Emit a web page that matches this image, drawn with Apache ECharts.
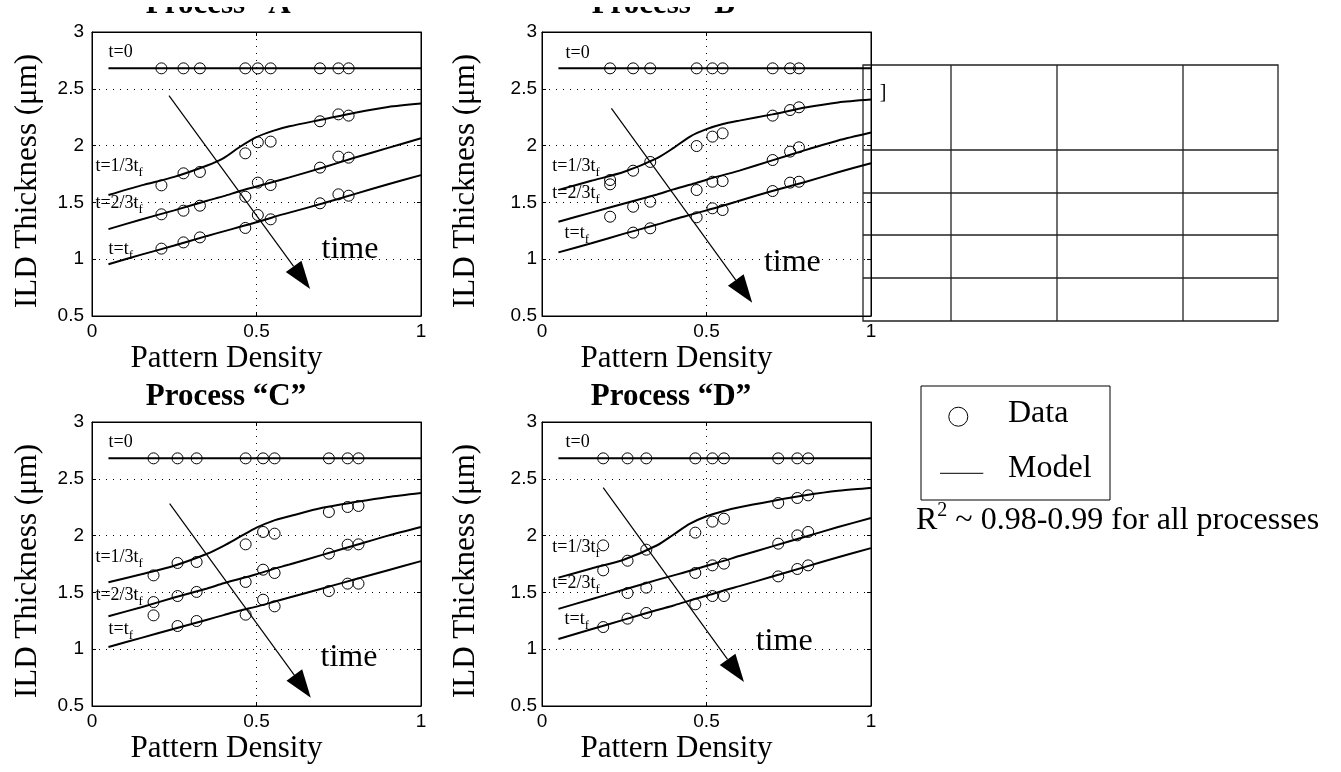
<!DOCTYPE html>
<html>
<head>
<meta charset="utf-8">
<script src="https://cdn.jsdelivr.net/npm/echarts@6/dist/echarts.min.js"></script>
<style>
  html, body { margin: 0; background: #fff; }
  #chart { width: 1341px; height: 772px; }
</style>
</head>
<body>
<div id="chart"></div>
<script>
// pattern density of the measured sites, per process
const densityA = [0.211, 0.278, 0.328, 0.466, 0.504, 0.543, 0.693, 0.749, 0.780];
const densityB = [0.207, 0.277, 0.329, 0.470, 0.518, 0.549, 0.701, 0.754, 0.781];
const densityC = [0.187, 0.260, 0.318, 0.467, 0.520, 0.555, 0.720, 0.777, 0.810];
const densityD = [0.186, 0.260, 0.317, 0.466, 0.518, 0.553, 0.718, 0.776, 0.809];

// measured ILD thickness (um): t=0, t=1/3tf, t=2/3tf, t=tf
const dataA0 = [2.68, 2.68, 2.68, 2.68, 2.68, 2.68, 2.68, 2.68, 2.68];
const dataA1 = [1.65, 1.756, 1.768, 1.932, 2.029, 2.035, 2.214, 2.275, 2.264];
const dataA2 = [1.395, 1.427, 1.471, 1.55, 1.674, 1.653, 1.806, 1.903, 1.894];
const dataA3 = [1.093, 1.148, 1.192, 1.275, 1.389, 1.351, 1.492, 1.571, 1.559];

const dataB0 = [2.68, 2.68, 2.68, 2.68, 2.68, 2.68, 2.68, 2.68, 2.68];
const dataB1 = [1.697, 1.779, 1.856, 1.996, 2.079, 2.108, 2.264, 2.313, 2.337];
const dataB2 = [1.659, 1.462, 1.506, 1.609, 1.682, 1.688, 1.873, 1.947, 1.985];
const dataB3 = [1.374, 1.234, 1.272, 1.369, 1.448, 1.433, 1.6, 1.674, 1.682];

const dataC0 = [2.68, 2.68, 2.68, 2.68, 2.68, 2.68, 2.68, 2.68, 2.68];
const dataC1 = [1.65, 1.759, 1.768, 1.923, 2.032, 2.017, 2.208, 2.252, 2.261];
const dataC2 = [1.415, 1.468, 1.504, 1.592, 1.7, 1.671, 1.841, 1.92, 1.923];
const dataC3 = [1.298, 1.204, 1.248, 1.304, 1.436, 1.377, 1.512, 1.577, 1.577];

const dataD0 = [2.68, 2.68, 2.68, 2.68, 2.68, 2.68, 2.68, 2.68, 2.68];
const dataD1 = [1.914, 1.779, 1.876, 2.026, 2.123, 2.149, 2.287, 2.331, 2.354];
const dataD2 = [1.694, 1.495, 1.542, 1.671, 1.738, 1.753, 1.929, 2.002, 2.032];
const dataD3 = [1.195, 1.269, 1.319, 1.395, 1.468, 1.468, 1.641, 1.706, 1.738];

// model curves
const flatX = [0.05, 1.0];
const flat0 = [2.68, 2.68];
const modelX = [0.05, 0.15, 0.25, 0.35, 0.4, 0.45, 0.5, 0.55, 0.6, 0.7, 0.8, 0.9, 1.0];
const modelA1 = [1.565, 1.65, 1.725, 1.825, 1.89, 1.99, 2.075, 2.13, 2.17, 2.23, 2.29, 2.34, 2.37];
const modelA2 = [1.265, 1.35, 1.43, 1.515, 1.555, 1.6, 1.64, 1.68, 1.72, 1.805, 1.895, 1.98, 2.065];
const modelA3 = [0.955, 1.04, 1.12, 1.205, 1.245, 1.285, 1.325, 1.37, 1.41, 1.49, 1.575, 1.66, 1.74];
const modelB1 = [1.61, 1.69, 1.77, 1.89, 1.98, 2.08, 2.145, 2.19, 2.22, 2.275, 2.335, 2.38, 2.405];
const modelB2 = [1.33, 1.41, 1.49, 1.57, 1.615, 1.655, 1.70, 1.74, 1.78, 1.87, 1.96, 2.045, 2.115];
const modelB3 = [1.06, 1.14, 1.225, 1.305, 1.35, 1.39, 1.43, 1.47, 1.515, 1.6, 1.68, 1.765, 1.845];
const modelC1 = [1.59, 1.66, 1.735, 1.84, 1.91, 1.99, 2.07, 2.13, 2.17, 2.245, 2.295, 2.34, 2.375];
const modelC2 = [1.29, 1.37, 1.455, 1.535, 1.58, 1.62, 1.66, 1.705, 1.745, 1.83, 1.915, 2.0, 2.075];
const modelC3 = [1.02, 1.10, 1.18, 1.26, 1.30, 1.34, 1.375, 1.415, 1.455, 1.535, 1.615, 1.695, 1.775];
const modelD1 = [1.63, 1.71, 1.79, 1.915, 2.01, 2.105, 2.17, 2.215, 2.25, 2.305, 2.355, 2.395, 2.42];
const modelD2 = [1.355, 1.44, 1.525, 1.61, 1.65, 1.69, 1.735, 1.775, 1.82, 1.905, 1.99, 2.075, 2.155];
const modelD3 = [1.09, 1.175, 1.26, 1.345, 1.385, 1.43, 1.47, 1.515, 1.555, 1.64, 1.725, 1.81, 1.89];

const titles = ['Process “A”', 'Process “B”', 'Process “C”', 'Process “D”'];
const curveLabels = ['t=0', 't=1/3t_f', 't=2/3t_f', 't=t_f'];

// label anchors and "time" arrow, in data coordinates of each panel
const labelAtA = [[0.049, 2.824], [0.009, 1.82], [0.009, 1.495], [0.049, 1.09]];
const labelAtB = [[0.07, 2.815], [0.03, 1.82], [0.03, 1.583], [0.067, 1.231]];
const labelAtC = [[0.049, 2.824], [0.009, 1.812], [0.009, 1.477], [0.049, 1.178]];
const labelAtD = [[0.07, 2.824], [0.03, 1.9], [0.03, 1.583], [0.067, 1.266]];
const timeAt = [[0.784, 1.081], [0.761, 0.971], [0.781, 0.927], [0.736, 1.064]];
const arrows = [
  [0.234, 2.44, 0.663, 0.738],
  [0.211, 2.328, 0.639, 0.617],
  [0.236, 2.281, 0.665, 0.573],
  [0.186, 2.422, 0.614, 0.711]
];

const SERIF = 'Liberation Serif';
const SANS = 'Liberation Sans';

const panels = [
  { density: densityA, data: [dataA0, dataA1, dataA2, dataA3], model: [modelA1, modelA2, modelA3], labels: labelAtA },
  { density: densityB, data: [dataB0, dataB1, dataB2, dataB3], model: [modelB1, modelB2, modelB3], labels: labelAtB },
  { density: densityC, data: [dataC0, dataC1, dataC2, dataC3], model: [modelC1, modelC2, modelC3], labels: labelAtC },
  { density: densityD, data: [dataD0, dataD1, dataD2, dataD3], model: [modelD1, modelD2, modelD3], labels: labelAtD }
];

const boxes = [
  { left: 92, top: 32, yGap: 49, yMargin: 8 },
  { left: 542, top: 32, yGap: 61, yMargin: 5 },
  { left: 92, top: 422, yGap: 49, yMargin: 8 },
  { left: 542, top: 422, yGap: 61, yMargin: 5 }
];

const zip = (xs, ys) => xs.map((x, i) => [x, ys[i]]);

const grid = [], xAxis = [], yAxis = [], series = [];
const dotted = { color: '#000', width: 1, type: [1, 6] };

boxes.forEach(b => {
  grid.push({ left: b.left, top: b.top, width: 329, height: 284, show: true, borderColor: '#000', borderWidth: 1 });
});
boxes.forEach((b, i) => {
  xAxis.push({
    gridIndex: i, type: 'value', min: 0, max: 1, interval: 0.5, position: 'bottom',
    axisLine: { show: true, onZero: false, lineStyle: { color: '#000', width: 1 } },
    axisTick: { show: true, inside: true, length: 4, lineStyle: { color: '#000' } },
    axisLabel: { fontFamily: SANS, fontSize: 19, color: '#000', margin: 6 },
    splitLine: { show: true, lineStyle: dotted },
    name: 'Pattern Density', nameLocation: 'middle', nameGap: 27,
    nameTextStyle: { fontFamily: SERIF, fontSize: 31, color: '#000', padding: [0, 60, 0, 0] }
  });
  yAxis.push({
    gridIndex: i, type: 'value', min: 0.5, max: 3, interval: 0.5, position: 'left',
    axisLine: { show: true, onZero: false, lineStyle: { color: '#000', width: 1 } },
    axisTick: { show: true, inside: true, length: 4, lineStyle: { color: '#000' } },
    axisLabel: { fontFamily: SANS, fontSize: 19, color: '#000', margin: b.yMargin },
    splitLine: { show: true, lineStyle: dotted },
    name: 'ILD Thickness (μm)', nameLocation: 'middle', nameGap: b.yGap,
    nameTextStyle: { fontFamily: SERIF, fontSize: 31, color: '#000', padding: [0, 14, 0, 0] }
  });
});
// mirrored axes for the inward ticks on top and right
boxes.forEach((b, i) => {
  xAxis.push({
    gridIndex: i, type: 'value', min: 0, max: 1, interval: 0.5, position: 'top',
    axisLine: { show: true, onZero: false, lineStyle: { color: '#000' } },
    axisTick: { show: true, inside: true, length: 4, lineStyle: { color: '#000' } },
    axisLabel: { show: false }, splitLine: { show: false }
  });
  yAxis.push({
    gridIndex: i, type: 'value', min: 0.5, max: 3, interval: 0.5, position: 'right',
    axisLine: { show: true, onZero: false, lineStyle: { color: '#000' } },
    axisTick: { show: true, inside: true, length: 4, lineStyle: { color: '#000' } },
    axisLabel: { show: false }, splitLine: { show: false }
  });
});

const lineStyle = { color: '#000', width: 2 };
const hidden = { color: 'rgba(0,0,0,0)', opacity: 1 };

panels.forEach((p, i) => {
  const axes = { xAxisIndex: i, yAxisIndex: i };
  series.push(Object.assign({
    type: 'line', data: zip(flatX, flat0), symbol: 'none', lineStyle, silent: true
  }, axes));
  p.model.forEach(m => {
    series.push(Object.assign({
      type: 'line', data: zip(modelX, m), symbol: 'none', smooth: 0.25, lineStyle, silent: true
    }, axes));
  });
  p.data.forEach(d => {
    series.push(Object.assign({
      type: 'scatter', data: zip(p.density, d), symbol: 'circle', symbolSize: 11,
      itemStyle: { color: 'rgba(0,0,0,0)', borderColor: '#000', borderWidth: 1, opacity: 1 }, silent: true, z: 3
    }, axes));
  });
  // curve labels
  series.push(Object.assign({
    type: 'scatter', symbolSize: 1, itemStyle: hidden, silent: true,
    data: p.labels.map((c, k) => [c[0], c[1], curveLabels[k]]),
    label: {
      show: true, position: 'right', distance: 0, textBorderWidth: 0,
      formatter: prm => {
        const t = prm.value[2];
        return t.endsWith('_f') ? '{m|' + t.slice(0, -2) + '}{s|f}' : '{m|' + t + '}';
      },
      rich: {
        m: { fontFamily: SERIF, fontSize: 18, color: '#000', lineHeight: 26 },
        s: { fontFamily: SERIF, fontSize: 13, color: '#000', verticalAlign: 'bottom' }
      }
    }
  }, axes));
  // "time" text
  series.push(Object.assign({
    type: 'scatter', symbolSize: 1, itemStyle: hidden, silent: true,
    data: [[timeAt[i][0], timeAt[i][1]]],
    label: {
      show: true, position: 'inside', formatter: 'time', fontFamily: SERIF, fontSize: 32,
      color: '#000', textBorderWidth: 0, opacity: 1
    }
  }, axes));
  // arrow
  series.push(Object.assign({
    type: 'custom', clip: false, silent: true, z: 4,
    data: [arrows[i]],
    encode: { x: [0, 2], y: [1, 3] },
    renderItem: (params, api) => {
      const a = api.coord([api.value(0), api.value(1)]);
      const b = api.coord([api.value(2), api.value(3)]);
      const dx = b[0] - a[0], dy = b[1] - a[1];
      const len = Math.hypot(dx, dy), ux = dx / len, uy = dy / len;
      const hl = 28, hw = 9.7;
      const bx = b[0] - ux * hl, by = b[1] - uy * hl;
      return {
        type: 'group',
        children: [
          { type: 'line', shape: { x1: a[0], y1: a[1], x2: bx, y2: by }, style: { stroke: '#000', lineWidth: 1.2 } },
          { type: 'polygon', shape: { points: [[b[0], b[1]], [bx - uy * hw, by + ux * hw], [bx + uy * hw, by - ux * hw]] }, style: { fill: '#000' } }
        ]
      };
    }
  }, axes));
});

const txt = (x, y, text, font, align) => ({
  type: 'text', x, y, silent: true,
  style: { text, font, fill: '#000', align: align || 'left', verticalAlign: 'middle', textAlign: align || 'left', textVerticalAlign: 'middle' }
});
const seg = (x1, y1, x2, y2, w) => ({
  type: 'line', silent: true, shape: { x1, y1, x2, y2 }, style: { stroke: '#222', lineWidth: w || 1.3 }
});

const graphic = [
  txt(226, 5, titles[0], 'bold 31px "Liberation Serif"', 'center'),
  txt(671, 5, titles[1], 'bold 31px "Liberation Serif"', 'center'),
  // the top titles are cut off in the source figure
  { type: 'rect', silent: true, z: 100, shape: { x: 100, y: 0, width: 700, height: 7 }, style: { fill: '#fff' } },
  txt(226, 397, titles[2], 'bold 31px "Liberation Serif"', 'center'),
  txt(671, 397, titles[3], 'bold 31px "Liberation Serif"', 'center'),
  // empty table on the right
  { type: 'rect', silent: true, shape: { x: 863, y: 65, width: 415, height: 256 }, style: { fill: 'none', stroke: '#222', lineWidth: 1.3 } },
  seg(951, 65, 951, 321), seg(1057, 65, 1057, 321), seg(1183, 65, 1183, 321),
  seg(863, 150, 1278, 150), seg(863, 193, 1278, 193), seg(863, 235, 1278, 235), seg(863, 278, 1278, 278),
  txt(883, 93, ']', '20px "Liberation Serif"', 'center'),
  // legend box
  { type: 'rect', silent: true, shape: { x: 921, y: 386, width: 189, height: 114 }, style: { fill: 'none', stroke: '#000', lineWidth: 1 } },
  { type: 'circle', silent: true, shape: { cx: 958.3, cy: 416.7, r: 9.5 }, style: { fill: 'none', stroke: '#000', lineWidth: 1 } },
  { type: 'line', silent: true, shape: { x1: 940, y1: 473.3, x2: 983.3, y2: 473.3 }, style: { stroke: '#000', lineWidth: 1 } },
  txt(1008, 414, 'Data', '32px "Liberation Serif"'),
  txt(1008, 469, 'Model', '32px "Liberation Serif"'),
  {
    type: 'text', x: 916, y: 521, silent: true,
    style: {
      text: '{a|R}{b|2}{a| ~ 0.98-0.99 for all processes}',
      align: 'left', verticalAlign: 'middle', textAlign: 'left', textVerticalAlign: 'middle',
      rich: {
        a: { fontFamily: SERIF, fontSize: 32, fill: '#000', color: '#000', lineHeight: 40 },
        b: { fontFamily: SERIF, fontSize: 20, fill: '#000', color: '#000', verticalAlign: 'top' }
      }
    }
  }
];

const chart = echarts.init(document.getElementById('chart'));
chart.setOption({
  animation: false,
  backgroundColor: '#fff',
  grid, xAxis, yAxis, series, graphic
});
</script>
</body>
</html>
